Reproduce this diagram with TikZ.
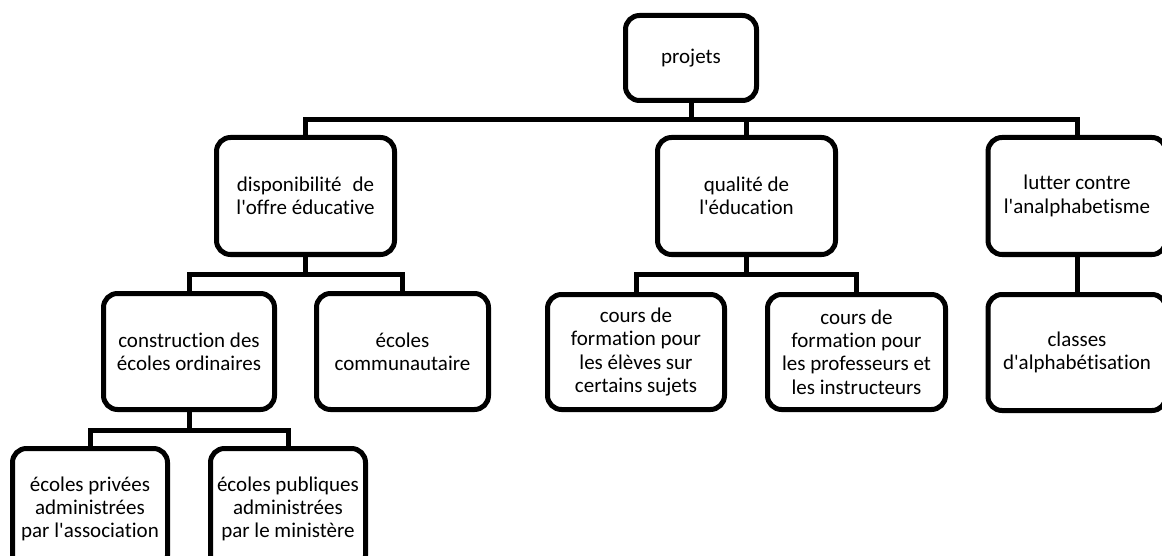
\documentclass[tikz,border=0pt]{standalone}
\usepackage{fontspec}
\newfontfamily\calfont[Ligatures=NoCommon]{Carlito}
\begin{document}
\begin{tikzpicture}[x=1pt,y=-1pt,
  box/.style={draw=black, line width=5pt, rounded corners=14pt, fill=white,
    align=center, inner sep=0pt, font=\calfont\fontsize{21}{23.3}\selectfont},
  conn/.style={draw=black, line width=5pt, line join=miter}]
\useasboundingbox (0,0) rectangle (1162,556);
% top
\node[box, minimum width=131pt, minimum height=85pt] (projets) at (691,58) {projets};
% level 1
\node[box, minimum width=178pt, minimum height=117pt] (dispo) at (305.5,196) {disponibilité\hspace{0.3em} de\\l'offre éducative};
\node[box, minimum width=178pt, minimum height=117pt] (qualite) at (746.5,196) {qualité de\\l'éducation};
\node[box, minimum width=178pt, minimum height=117pt] (lutter) at (1077,196) {lutter contre\\l'analphabetisme};
% level 2
\node[box, minimum width=171pt, minimum height=116pt] (constr) at (189,351.5) {construction des\\écoles ordinaires};
\node[box, minimum width=172pt, minimum height=116pt] (commu) at (402.5,351.5) {écoles\\communautaire};
\node[box, minimum width=177pt, minimum height=115pt] (cours1) at (636,352) {cours de\\formation pour\\les élèves sur\\certains sujets};
\node[box, minimum width=178pt, minimum height=115pt] (cours2) at (856.5,352) {cours de\\formation pour\\les professeurs et\\les instructeurs};
\node[box, minimum width=178pt, minimum height=116pt] (classes) at (1077,352.5) {classes\\d'alphabétisation};
% level 3
\node[box, minimum width=155pt, minimum height=121pt] (privees) at (90,509) {écoles privées\\administrées\\par l'association};
\node[box, minimum width=155pt, minimum height=121pt] (publiques) at (288,509) {écoles publiques\\administrées\\par le ministère};
% buses
\coordinate (b1) at (0,119.5);
\coordinate (b2) at (0,274);
\coordinate (b3) at (0,430);
\draw[conn] (dispo.north) -- (dispo.north |- b1) -- (lutter.north |- b1) -- (lutter.north);
\draw[conn] (projets.south) -- (projets.south |- b1);
\draw[conn] (qualite.north) -- (qualite.north |- b1);
\draw[conn] (constr.north) -- (constr.north |- b2) -- (commu.north |- b2) -- (commu.north);
\draw[conn] (dispo.south) -- (dispo.south |- b2);
\draw[conn] (cours1.north) -- (cours1.north |- b2) -- (cours2.north |- b2) -- (cours2.north);
\draw[conn] (qualite.south) -- (qualite.south |- b2);
\draw[conn] (lutter.south) -- (classes.north);
\draw[conn] (privees.north) -- (privees.north |- b3) -- (publiques.north |- b3) -- (publiques.north);
\draw[conn] (constr.south) -- (constr.south |- b3);
\end{tikzpicture}
\end{document}
